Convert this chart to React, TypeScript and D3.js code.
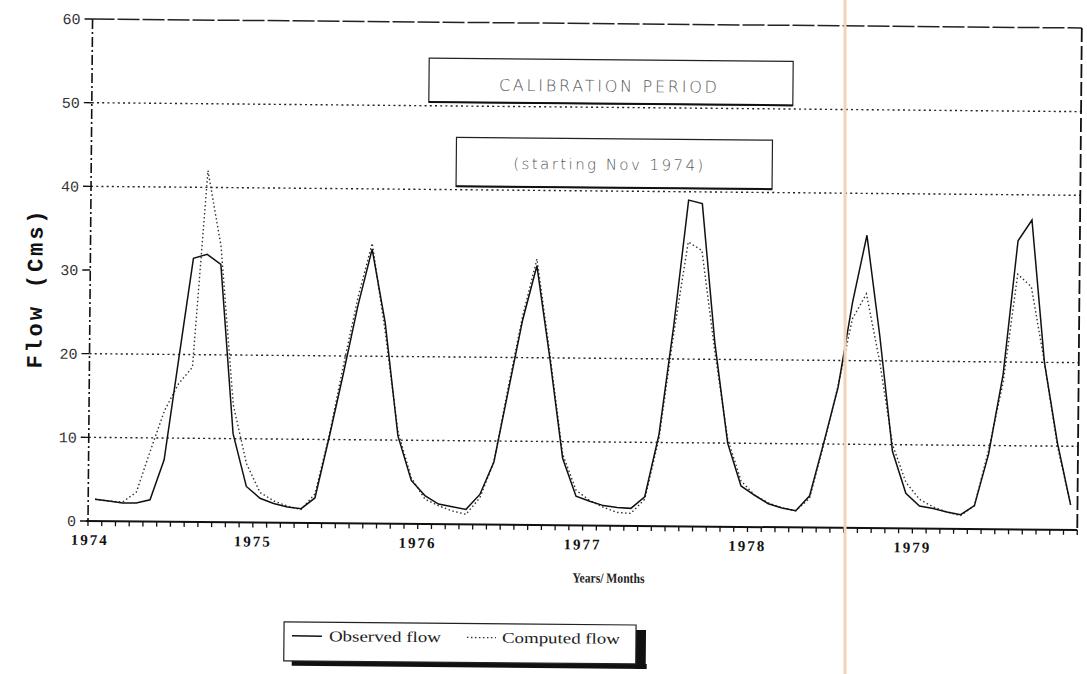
import React from "react";
import * as d3 from "d3";

// Monthly flows (Cms), Jan 1974 .. Dec 1979
const observed: number[] = [
  2.6, 2.4, 2.2, 2.2, 2.6, 7.4, 19.5, 31.5, 32, 30.8, 10.6, 4.3,
  2.9, 2.3, 1.9, 1.7, 3.0, 10.3, 18, 26, 32.8, 24, 10.5, 5.2,
  3.4, 2.4, 2.1, 1.8, 3.6, 7.5, 16, 24.5, 31, 20, 8, 3.5,
  2.9, 2.4, 2.2, 2.1, 3.5, 11, 24, 39, 38.6, 22, 10, 4.9,
  3.8, 2.8, 2.3, 2.0, 3.8, 10.2, 16.8, 27, 35, 23, 9.2, 4.2,
  2.7, 2.4, 2.0, 1.7, 2.8, 9, 18.5, 34.5, 37, 20, 10.4, 3,
];
const computed: number[] = [
  2.6, 2.4, 2.3, 3.5, 8.5, 13.3, 16.5, 18.5, 42, 33, 14, 7,
  3.6, 2.6, 2.0, 1.6, 3.5, 10.5, 19, 27, 33.5, 23, 11, 5.5,
  3.0, 2.2, 1.6, 1.2, 3.2, 7.5, 16.5, 25, 31.8, 20.5, 8.5, 4.2,
  3.0, 2.2, 1.6, 1.5, 3.2, 10.5, 23, 34, 33, 21, 10.5, 5.5,
  3.8, 2.9, 2.3, 2.0, 3.5, 10, 17, 25, 28, 20, 10, 5.5,
  3.5, 2.6, 2.0, 1.6, 2.8, 9.5, 17.5, 30.5, 29, 20, 10, 3,
];
const yearLabels = ["1974", "1975", "1976", "1977", "1978", "1979"];
const yTickValues = [0, 10, 20, 30, 40, 50, 60];
const gridValues = [10, 20, 40, 50];
const nMonths = 72;
const titleText = "CALIBRATION PERIOD";
const subtitleText = "(starting Nov 1974)";
const xTitle = "Years/ Months";
const yTitle = "Flow (Cms)";
const legendLabels = ["Observed flow", "Computed flow"];

export default function App() {
  const W = 1087;
  const H = 674;
  const x = d3.scaleLinear().domain([0, nMonths]).range([88, 1077.3]);
  const y = d3.scaleLinear().domain([0, 60]).range([521, 19]);
  const line = d3
    .line<number>()
    .x((_, i) => x(i + 0.5))
    .y((d) => y(d));
  const ticks = d3.range(nMonths + 1);
  const x0 = x(0);
  const x1 = x(nMonths);

  return (
    <svg
      width={W}
      height={H}
      style={{ position: "absolute", left: 0, top: 0, background: "#fff" }}
    >
      <rect width={W} height={H} fill="#fff" />
      <g transform="rotate(0.52 88 521)">
        {/* grid lines */}
        {gridValues.map((v) => (
          <line
            key={"g" + v}
            x1={x0}
            x2={x1}
            y1={y(v)}
            y2={y(v)}
            stroke="#222"
            strokeWidth={1.4}
            strokeDasharray="2,3.2"
          />
        ))}
        {/* top frame */}
        <line x1={x0} x2={x1} y1={y(60)} y2={y(60)} stroke="#222" strokeWidth={1.5} strokeDasharray="22,3" />
        {/* right frame */}
        <line x1={x1} x2={x1} y1={y(60)} y2={y(0)} stroke="#111" strokeWidth={1.8} strokeDasharray="14,4" />
        {/* left axis */}
        <line x1={x0} x2={x0} y1={y(60)} y2={y(0)} stroke="#111" strokeWidth={1.6} strokeDasharray="10,3,2,3" />
        {/* y ticks and labels */}
        {yTickValues.map((v) => (
          <g key={"y" + v}>
            <line x1={x0 - 8} x2={x0} y1={y(v)} y2={y(v)} stroke="#111" strokeWidth={1.4} />
            <text
              x={x0 - 12}
              y={y(v)}
              dy="0.35em"
              textAnchor="end"
              fontFamily="Liberation Mono, monospace"
              fontSize={15}
              fill="#333"
            >
              {v}
            </text>
          </g>
        ))}
        {/* bottom axis */}
        <line x1={x0 - 2} x2={x1} y1={y(0)} y2={y(0)} stroke="#111" strokeWidth={2} />
        {ticks.map((t) => (
          <line key={"t" + t} x1={x(t)} x2={x(t)} y1={y(0)} y2={y(0) + 5} stroke="#111" strokeWidth={1.3} />
        ))}
        {yearLabels.map((lab, i) => (
          <text
            key={lab}
            x={x(i * 12) + (i === 0 ? 2 : 0)}
            y={545}
            textAnchor="middle"
            fontFamily="Liberation Serif, serif"
            fontWeight="bold"
            fontSize={15}
            letterSpacing={2}
            fill="#111"
          >
            {lab}
          </text>
        ))}
        <text
          x={573}
          y={578}
          fontFamily="Liberation Serif, serif"
          fontWeight="bold"
          fontSize={14}
          textLength={72}
          lengthAdjust="spacingAndGlyphs"
          fill="#222"
        >
          {xTitle}
        </text>
        <text
          transform="translate(40,290) rotate(-90)"
          textAnchor="middle"
          fontFamily="Liberation Mono, monospace"
          fontWeight="bold"
          fontSize={22}
          textLength={158}
          lengthAdjust="spacing"
          fill="#111"
        >
          {yTitle}
        </text>

        {/* title boxes */}
        <rect x={425} y={55} width={364} height={44} fill="#fff" stroke="#222" strokeWidth={1.2} />
        <line x1={425} x2={789} y1={99} y2={99} stroke="#111" strokeWidth={2} />
        <text
          x={495}
          y={87}
          fontFamily="DejaVu Sans, sans-serif"
          fontWeight={300}
          fontSize={16}
          textLength={218}
          lengthAdjust="spacing"
          fill="#555"
        >
          {titleText}
        </text>
        <rect x={453} y={134} width={316} height={49} fill="#fff" stroke="#222" strokeWidth={1.2} />
        <line x1={453} x2={769} y1={183} y2={183} stroke="#111" strokeWidth={2} />
        <text
          x={510}
          y={165}
          fontFamily="DejaVu Sans, sans-serif"
          fontWeight={300}
          fontSize={15}
          textLength={190}
          lengthAdjust="spacing"
          fill="#555"
        >
          {subtitleText}
        </text>

        {/* data */}
        <path d={line(computed) || ""} fill="none" stroke="#333" strokeWidth={1.4} strokeDasharray="1.5,2.5" />
        <path d={line(observed) || ""} fill="none" stroke="#111" strokeWidth={1.5} />

        {/* legend */}
        <rect x={293} y={659} width={355} height={5} fill="#111" />
        <rect x={637} y={625} width={10} height={39} fill="#111" />
        <rect x={285} y={620} width={352} height={39} fill="#fff" stroke="#222" strokeWidth={1.2} />
        <line x1={293} x2={323} y1={634} y2={634} stroke="#111" strokeWidth={1.5} />
        <text x={330} y={639} fontFamily="Liberation Serif, serif" fontSize={15} textLength={112} lengthAdjust="spacingAndGlyphs" fill="#222">
          {legendLabels[0]}
        </text>
        <line x1={468} x2={497} y1={634} y2={634} stroke="#333" strokeWidth={1.3} strokeDasharray="1.5,2.5" />
        <text x={503} y={639} fontFamily="Liberation Serif, serif" fontSize={15} textLength={118} lengthAdjust="spacingAndGlyphs" fill="#222">
          {legendLabels[1]}
        </text>
      </g>
      {/* paper fold mark */}
      <line x1={845} x2={845} y1={0} y2={H} stroke="#f2d4b4" strokeWidth={3} />
    </svg>
  );
}
